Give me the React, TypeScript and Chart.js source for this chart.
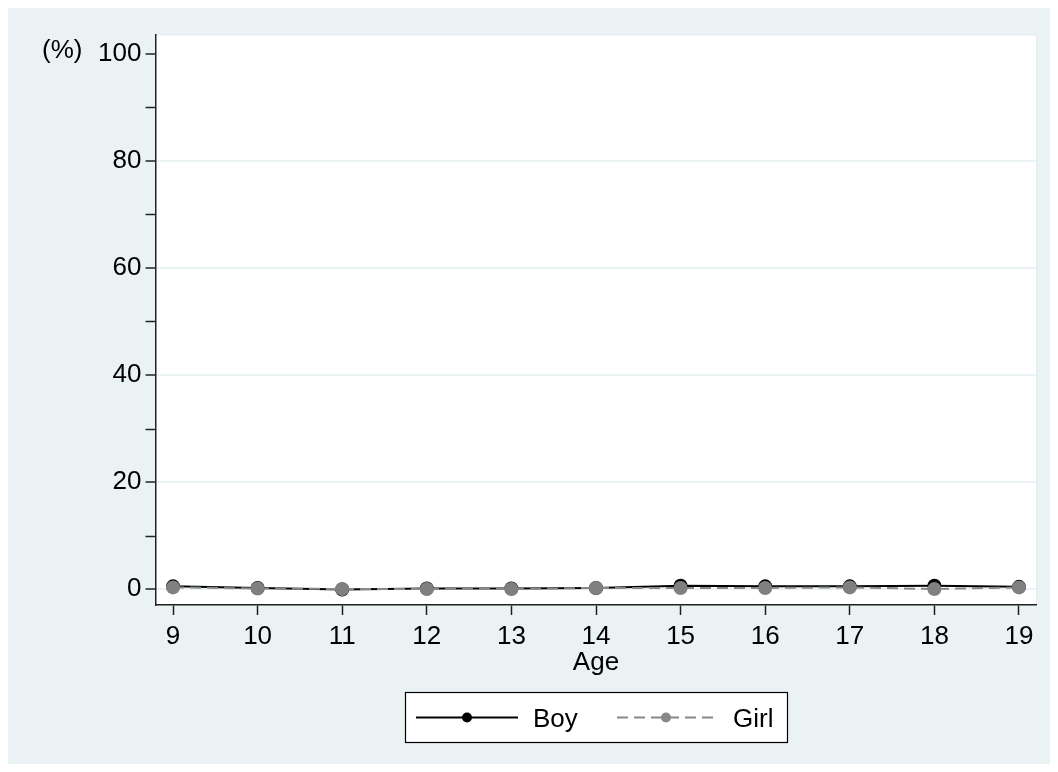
import React, { useEffect, useRef } from "react";
import { Chart, registerables } from "chart.js";

Chart.register(...registerables);

const ages = [9, 10, 11, 12, 13, 14, 15, 16, 17, 18, 19];
const boyValues = [0.5, 0.2, -0.1, 0.1, 0.1, 0.2, 0.6, 0.5, 0.5, 0.6, 0.4];
const girlValues = [0.3, 0.1, 0.0, 0.0, 0.0, 0.2, 0.2, 0.2, 0.3, 0.0, 0.3];
const yMajorTicks = [0, 20, 40, 60, 80, 100];
const yMinorTicks = [10, 30, 50, 70, 90];
const seriesNames = ["Boy", "Girl"];
const xTitle = "Age";
const yTitle = "(%)";

const BG = "#eaf2f3";
const FONT = "'Liberation Sans', Arial, sans-serif";
const FS = 26;
const DASH = [11, 6];

const decorPlugin = {
  id: "decor",
  beforeDraw(chart: any) {
    const { ctx, chartArea } = chart;
    ctx.save();
    ctx.fillStyle = BG;
    ctx.fillRect(0, 0, chart.width, chart.height);
    ctx.fillStyle = "#ffffff";
    ctx.fillRect(chartArea.left, chartArea.top, chartArea.right - chartArea.left, chartArea.bottom - chartArea.top);
    ctx.strokeStyle = "#e4ecee";
    ctx.lineWidth = 1;
    ctx.strokeRect(chartArea.left, chartArea.top, chartArea.right - chartArea.left, chartArea.bottom - chartArea.top);
    ctx.restore();
  },
  afterDraw(chart: any) {
    const { ctx, chartArea, scales } = chart;
    const y = scales.y;
    ctx.save();
    // minor ticks
    ctx.strokeStyle = "#222";
    ctx.lineWidth = 1.5;
    yMinorTicks.forEach((v) => {
      const py = Math.round(y.getPixelForValue(v)) + 0.5;
      ctx.beginPath();
      ctx.moveTo(chartArea.left - 10, py);
      ctx.lineTo(chartArea.left, py);
      ctx.stroke();
    });
    // titles
    ctx.fillStyle = "#000";
    ctx.font = `${FS}px ${FONT}`;
    ctx.textAlign = "center";
    ctx.textBaseline = "alphabetic";
    ctx.fillText(xTitle, (chartArea.left + chartArea.right) / 2, 662);
    ctx.textAlign = "left";
    ctx.fillText(yTitle, 34, 50);

    // legend
    const lx = 397, ly = 684, lw = 382, lh = 50;
    ctx.fillStyle = "#fff";
    ctx.fillRect(lx, ly, lw, lh);
    ctx.strokeStyle = "#000";
    ctx.lineWidth = 1.2;
    ctx.strokeRect(lx + 0.5, ly + 0.5, lw, lh);
    const cy = ly + lh / 2 + 0.5;
    // Boy
    ctx.strokeStyle = "#000";
    ctx.lineWidth = 2;
    ctx.setLineDash([]);
    ctx.beginPath();
    ctx.moveTo(408, cy);
    ctx.lineTo(510, cy);
    ctx.stroke();
    ctx.fillStyle = "#000";
    ctx.beginPath();
    ctx.arc(459, cy, 5, 0, Math.PI * 2);
    ctx.fill();
    // Girl
    ctx.strokeStyle = "#888";
    ctx.setLineDash(DASH);
    ctx.beginPath();
    ctx.moveTo(609, cy);
    ctx.lineTo(707, cy);
    ctx.stroke();
    ctx.setLineDash([]);
    ctx.fillStyle = "#888";
    ctx.beginPath();
    ctx.arc(658, cy, 5, 0, Math.PI * 2);
    ctx.fill();
    ctx.fillStyle = "#000";
    ctx.font = `${FS}px ${FONT}`;
    ctx.textAlign = "left";
    ctx.textBaseline = "alphabetic";
    ctx.fillText(seriesNames[0], 525, cy + 9);
    ctx.fillText(seriesNames[1], 725, cy + 9);
    ctx.restore();
  },
};

export default function App() {
  const ref = useRef<HTMLCanvasElement>(null);
  useEffect(() => {
    if (!ref.current) return;
    const chart = new Chart(ref.current, {
      type: "line",
      data: {
        datasets: [
          {
            label: seriesNames[0],
            data: ages.map((a, i) => ({ x: a, y: boyValues[i] })),
            borderColor: "#000",
            backgroundColor: "#000",
            borderWidth: 2,
            pointRadius: 7,
            pointBackgroundColor: "#000",
            pointBorderWidth: 0,
            tension: 0,
            order: 1,
          },
          {
            label: seriesNames[1],
            data: ages.map((a, i) => ({ x: a, y: girlValues[i] })),
            borderColor: "#888",
            backgroundColor: "#888",
            borderWidth: 2,
            borderDash: DASH,
            pointRadius: 7,
            pointBackgroundColor: "#808080",
            pointBorderWidth: 0,
            tension: 0,
            order: 0,
          },
        ],
      },
      options: {
        animation: false,
        responsive: false,
        devicePixelRatio: 1,
        layout: { padding: { left: 0, right: 13.5, top: 27, bottom: 99 } },
        plugins: { legend: { display: false }, tooltip: { enabled: false } },
        scales: {
          x: {
            type: "linear",
            min: 8.793,
            max: 19.207,
            afterBuildTicks: (s: any) => {
              s.ticks = ages.map((v) => ({ value: v }));
            },
            afterFit: (s: any) => {
              s.height = 60;
            },
            border: { display: true, color: "#222", width: 1.5 },
            grid: {
              display: true,
              drawOnChartArea: false,
              drawTicks: true,
              tickLength: 10,
              tickColor: "#222",
              tickWidth: 1.5,
            },
            ticks: {
              color: "#000",
              font: { family: FONT, size: FS },
              padding: 6,
              maxRotation: 0,
              autoSkip: false,
              callback: (v: any) => String(v),
            },
          },
          y: {
            type: "linear",
            min: -2.99,
            max: 103.55,
            afterBuildTicks: (s: any) => {
              s.ticks = yMajorTicks.map((v) => ({ value: v }));
            },
            afterFit: (s: any) => {
              s.width = 147.5;
            },
            border: { display: true, color: "#222", width: 1.5 },
            grid: {
              display: true,
              drawOnChartArea: true,
              drawTicks: true,
              tickLength: 10,
              color: (c: any) => (c.tick && c.tick.value === 100 ? "rgba(0,0,0,0)" : BG),
              lineWidth: 2,
              tickColor: "#222",
              tickWidth: 1.5,
            },
            ticks: {
              color: "#000",
              font: { family: FONT, size: FS },
              padding: 4,
              autoSkip: false,
              callback: (v: any) => String(v),
            },
          },
        },
      },
      plugins: [decorPlugin],
    });
    return () => chart.destroy();
  }, []);
  return (
    <div style={{ width: 1042, height: 756 }}>
      <canvas ref={ref} width={1042} height={756} style={{ display: "block" }} />
    </div>
  );
}
